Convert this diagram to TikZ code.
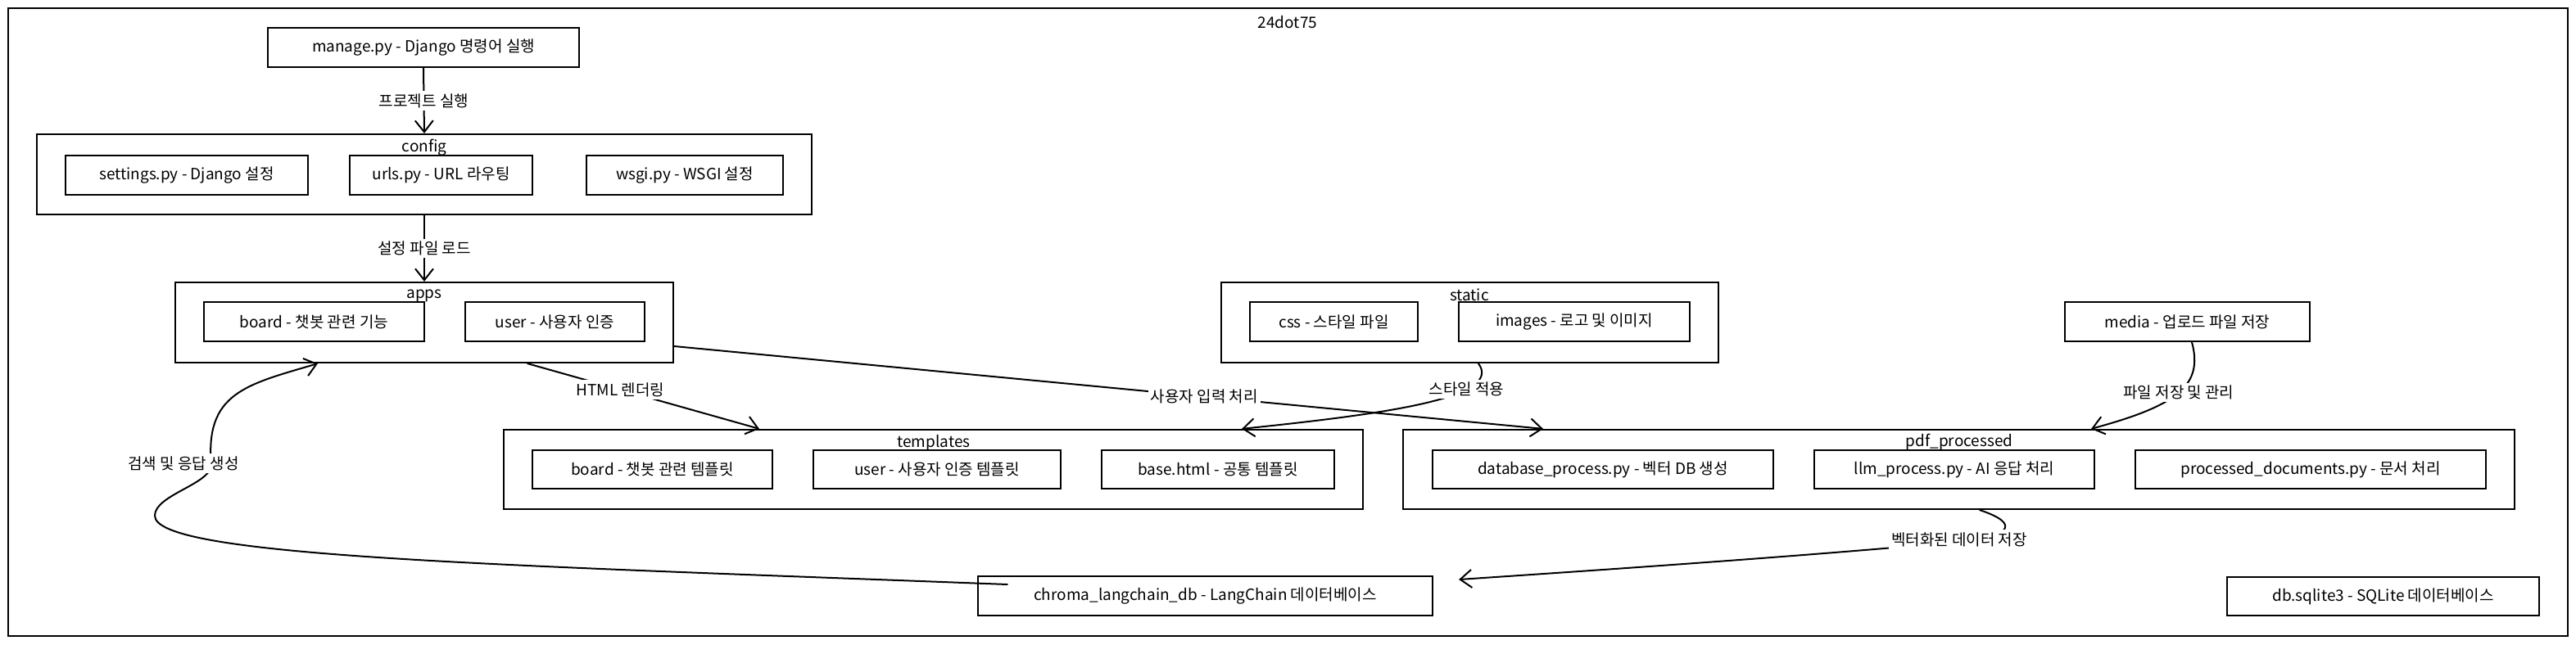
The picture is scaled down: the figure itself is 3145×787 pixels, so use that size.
\documentclass[tikz,border=0pt]{standalone}
\usepackage{fontspec}
\setmainfont{Noto Sans CJK KR}
\usetikzlibrary{arrows.meta,calc}
\tikzset{
  txt/.style={font=\fontsize{19pt}{22pt}\selectfont},
  box/.style={draw, line width=2.2pt, minimum height=48pt, inner sep=0pt, txt},
  grp/.style={draw, line width=2.2pt, minimum height=98pt, inner sep=0pt},
  grplbl/.style={txt, inner sep=0pt},
  lbl/.style={txt, fill=white, inner sep=3pt},
  arr/.style={line width=2pt, line cap=round, -{Straight Barb[length=14pt,width=22pt,line width=2pt]}}
}
\begin{document}
\begin{tikzpicture}[x=1pt,y=-1pt]
\useasboundingbox (0,0) rectangle (3145,787);
\draw[line width=2.4pt] (10,10) rectangle (3135,777);
\node[txt] (title) at (1572,27) {24dot75};

% top
\node[box, minimum width=380pt] (manage) at (517,58) {manage.py - Django 명령어 실행};

% config
\node[grp, minimum width=946pt] (config) at (518,213) {};
\node[box, minimum width=296pt] (settings) at (228,214) {settings.py - Django 설정};
\node[box, minimum width=223pt] (urls) at (538.5,214) {urls.py - URL 라우팅};
\node[box, minimum width=240pt] (wsgi) at (836,214) {wsgi.py - WSGI 설정};
\node[grplbl] (configlbl) at (518,180) {config};

% apps
\node[grp, minimum width=608pt] (apps) at (518,394) {};
\node[box, minimum width=269pt] (board) at (383.5,393) {board - 챗봇 관련 기능};
\node[box, minimum width=219pt] (user) at (677.5,393) {user - 사용자 인증};
\node[grplbl] (appslbl) at (518,361) {apps};

% static
\node[grp, minimum width=607pt] (static) at (1794.5,394) {};
\node[box, minimum width=205pt] (css) at (1628.5,393) {css - 스타일 파일};
\node[box, minimum width=282pt] (images) at (1922,393) {images - 로고 및 이미지};
\node[grplbl] (staticlbl) at (1794,360) {static};

% media
\node[box, minimum width=299pt] (media) at (2670.5,393) {media - 업로드 파일 저장};

% templates
\node[grp, minimum width=1049pt, minimum height=97pt] (templates) at (1139.5,573.5) {};
\node[box, minimum width=293pt, minimum height=47pt] (boardt) at (796.5,573.5) {board - 챗봇 관련 템플릿};
\node[box, minimum width=302pt, minimum height=47pt] (usert) at (1144,573.5) {user - 사용자 인증 템플릿};
\node[box, minimum width=284pt, minimum height=47pt] (base) at (1487,573.5) {base.html - 공통 템플릿};
\node[grplbl] (templateslbl) at (1140,541) {templates};

% pdf_processed
\node[grp, minimum width=1357pt, minimum height=97pt] (pdf) at (2391.5,573.5) {};
\node[box, minimum width=416pt, minimum height=47pt] (database) at (1957,573.5) {database\_process.py - 벡터 DB 생성};
\node[box, minimum width=342pt, minimum height=47pt] (llm) at (2386,573.5) {llm\_process.py - AI 응답 처리};
\node[box, minimum width=428pt, minimum height=47pt] (procdocs) at (2821,573.5) {processed\_documents.py - 문서 처리};
\node[grplbl] (pdflbl) at (2392,540) {pdf\_processed};

% bottom
\node[box, minimum width=555pt] (chroma) at (1471.5,728) {chroma\_langchain\_db - LangChain 데이터베이스};
\node[box, minimum width=381pt, minimum height=47pt] (sqlite) at (2909.5,728.5) {db.sqlite3 - SQLite 데이터베이스};

% connectors
\draw[arr] (manage.south) -- node[lbl] {프로젝트 실행} (config.north);
\draw[arr] (config.south) -- node[lbl] {설정 파일 로드} (apps.north);
\draw[arr] ([xshift=126pt]apps.south) -- node[lbl, pos=0.4] {HTML 렌더링} ([xshift=-212.5pt]templates.north);
\draw[arr] ([yshift=-29pt]apps.east) -- node[lbl, pos=0.61] {사용자 입력 처리} ([xshift=-507.5pt]pdf.north);
\draw[arr] ([xshift=10.5pt]static.south) .. controls (1835,485) and (1700,505) .. node[lbl, pos=0.3] {스타일 적용} ([xshift=376.5pt]templates.north);
\draw[arr] ([xshift=5.5pt]media.south) .. controls (2690,470) and (2660,495) .. node[lbl, pos=0.5] {파일 저장 및 관리} ([xshift=161.5pt]pdf.north);
\draw[arr] ([xshift=25.5pt]pdf.south) .. controls (2468,640) and (2455,656) .. (2390,662)
   .. controls (2200,680) and (1900,700) .. ([xshift=31pt,yshift=20pt]chroma.east);
\node[lbl] (veclbl) at (2392,659) {벡터화된 데이터 저장};
\draw[arr] ([xshift=37pt,yshift=14pt]chroma.west) .. controls (600,690) and (189,680) .. (189,630)
   .. controls (189,605) and (255,592) .. (258,569)
   .. controls (250,480) and (300,470) .. ([xshift=-130pt]apps.south);
\node[lbl] (searchlbl) at (224,566) {검색 및 응답 생성};
\end{tikzpicture}
\end{document}
